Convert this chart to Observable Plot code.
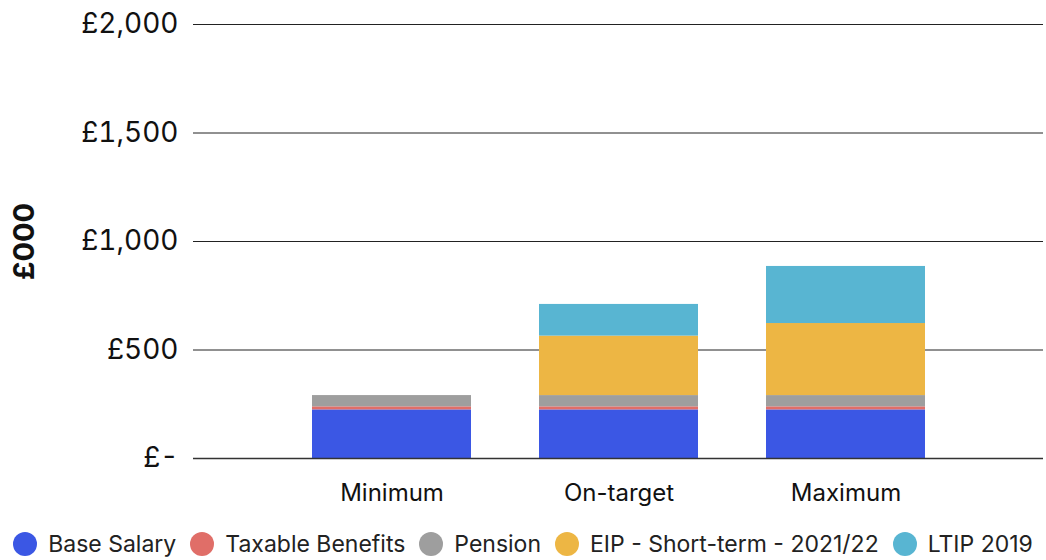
<!DOCTYPE html>
<html>
<head>
<meta charset="utf-8">
<script src="https://cdn.jsdelivr.net/npm/d3@7"></script>
<script src="https://cdn.jsdelivr.net/npm/@observablehq/plot@0.6"></script>
<style>
  body { margin: 0; background: #fff; font-family: Inter, "Open Sans", sans-serif; }
  #legend { display: flex; justify-content: center; gap: 14px; font-size: 23px; line-height: 26px; color: #222; margin-top: 9px; white-space: nowrap; }
  #legend .item { display: flex; align-items: center; gap: 11px; }
  #legend .dot { width: 24px; height: 24px; border-radius: 50%; display: inline-block; flex: none; }
</style>
</head>
<body>
<div id="chart"></div>
<div id="legend"></div>
<script>
const categories = ["Minimum", "On-target", "Maximum"];
const components = ["Base Salary", "Taxable Benefits", "Pension", "EIP - Short-term - 2021/22", "LTIP 2019"];
const colors = ["#3b57e4", "#e06e68", "#9e9e9e", "#edb644", "#58b5d2"];
const baseSalary = [224, 224, 224];
const taxableBenefits = [14, 14, 14];
const pension = [52, 52, 52];
const eip = [0, 274, 332];
const ltip = [0, 146, 263];
const yTicks = [0, 500, 1000, 1500, 2000];

const seriesValues = [baseSalary, taxableBenefits, pension, eip, ltip];
const data = [];
categories.forEach((c, i) => {
  components.forEach((comp, j) => {
    data.push({category: c, component: comp, value: seriesValues[j][i]});
  });
});

const W = 1046, H = 522;
const chart = Plot.plot({
  width: W,
  height: H,
  marginLeft: 193,
  marginRight: 3,
  marginTop: 24,
  marginBottom: 64,
  style: {fontFamily: "Inter, 'Open Sans', sans-serif", background: "#fff", color: "#111"},
  x: {domain: categories, range: [277, 960], paddingInner: 0.3, paddingOuter: 0.15, label: null},
  y: {domain: [0, 2000], label: null},
  color: {domain: components, range: colors},
  marks: [
    Plot.ruleY(yTicks.filter(d => d > 0), {stroke: "#222", strokeWidth: 1}),
    Plot.barY(data, {x: "category", y: "value", fill: "component", order: components, inset: 0}),
    Plot.ruleY([0], {stroke: "#333", strokeWidth: 1.5}),
    Plot.axisY({ticks: yTicks, tickSize: 0, tickPadding: 15, fontSize: 28,
      tickFormat: d => d === 0 ? "£-" : "£" + d3.format(",")(d), label: null}),
    Plot.axisX({tickSize: 0, tickPadding: 25, fontSize: 24, label: null}),
    Plot.text(["£000"], {frameAnchor: "left", textAnchor: "middle", dx: -169, rotate: -90, fontSize: 29, fontWeight: "bold", fill: "#111"})
  ]
});
document.getElementById("chart").appendChild(chart);

const legend = document.getElementById("legend");
components.forEach((c, i) => {
  const item = document.createElement("span");
  item.className = "item";
  const dot = document.createElement("span");
  dot.className = "dot";
  dot.style.background = colors[i];
  const label = document.createElement("span");
  label.textContent = c;
  item.appendChild(dot);
  item.appendChild(label);
  legend.appendChild(item);
});
</script>
</body>
</html>
